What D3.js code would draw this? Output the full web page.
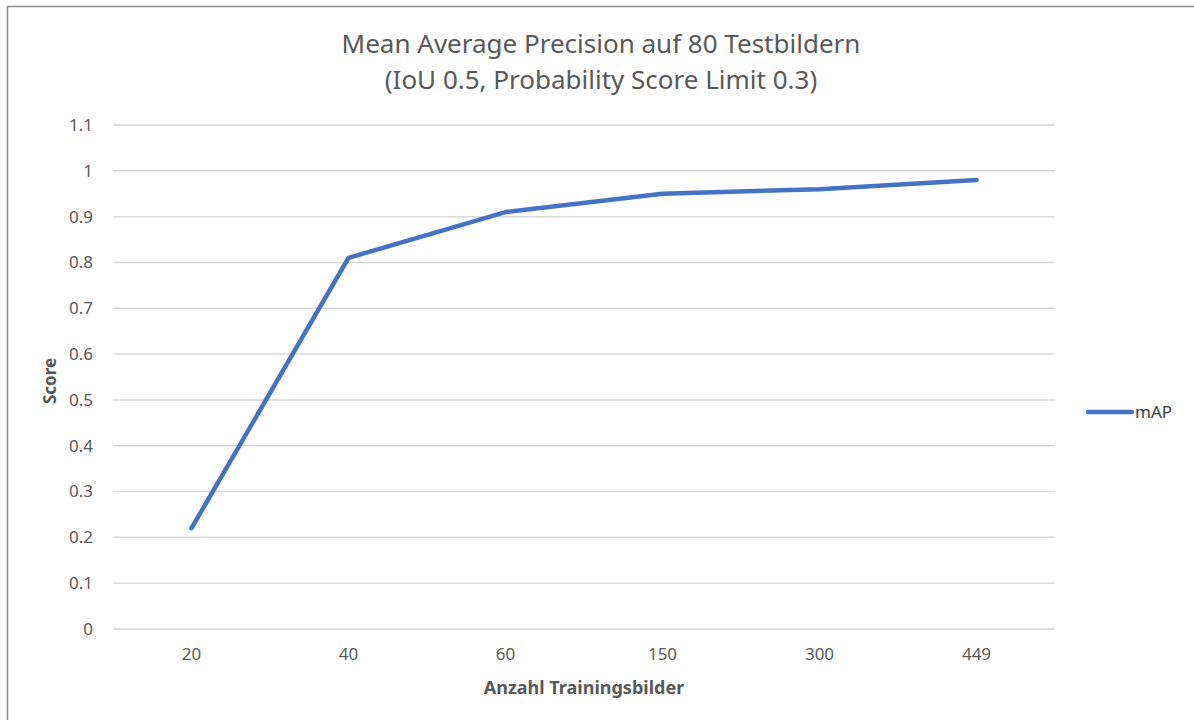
<!DOCTYPE html>
<html>
<head>
<meta charset="utf-8">
<script src="https://cdn.jsdelivr.net/npm/d3@7"></script>
<style>
  html, body { margin: 0; padding: 0; background: #fff; }
  svg { display: block; }
  text { font-family: "Noto Sans", "Open Sans", sans-serif; }
</style>
</head>
<body>
<svg id="chart" width="1194" height="720"></svg>
<script>
// Training set sizes and the resulting mAP scores
const categories = ["20", "40", "60", "150", "300", "449"];
const mapValues = [0.22, 0.81, 0.91, 0.95, 0.96, 0.98];
const yTicks = [0, 0.1, 0.2, 0.3, 0.4, 0.5, 0.6, 0.7, 0.8, 0.9, 1, 1.1];
const seriesName = "mAP";
const titleLines = ["Mean Average Precision auf 80 Testbildern", "(IoU 0.5, Probability Score Limit 0.3)"];
const xTitle = "Anzahl Trainingsbilder";
const yTitle = "Score";

const svg = d3.select("#chart");
const W = 1194, H = 720;
const plot = { left: 113, right: 1055, top: 125, bottom: 629 };

// chart frame
svg.append("path")
  .attr("d", `M7.5,${H} V6.5 H${W}`)
  .attr("fill", "none")
  .attr("stroke", "#8c8c8c")
  .attr("stroke-width", 1.5);

const x = d3.scaleBand().domain(categories).range([plot.left, plot.right]);
const y = d3.scaleLinear().domain([0, 1.1]).range([plot.bottom, plot.top]);

// horizontal gridlines
svg.append("g")
  .selectAll("line")
  .data(yTicks)
  .join("line")
  .attr("x1", plot.left).attr("x2", plot.right)
  .attr("y1", d => y(d)).attr("y2", d => y(d))
  .attr("stroke", "#d9d9d9")
  .attr("stroke-width", 1.5);

// y-axis tick labels
const yAxis = d3.axisLeft(y).tickValues(yTicks).tickFormat(d3.format("~g")).tickSize(0).tickPadding(20);
svg.append("g")
  .attr("transform", `translate(${plot.left},0)`)
  .call(yAxis)
  .call(g => g.select(".domain").remove())
  .call(g => g.selectAll("text")
    .attr("fill", "#595959")
    .style("font-size", "17px")
    .style("font-family", "\"Noto Sans\", sans-serif"));

// x-axis tick labels
const xAxis = d3.axisBottom(x).tickSize(0).tickPadding(19);
svg.append("g")
  .attr("transform", `translate(0,${plot.bottom})`)
  .call(xAxis)
  .call(g => g.select(".domain").remove())
  .call(g => g.selectAll("text")
    .attr("fill", "#595959")
    .style("font-size", "17px")
    .style("font-family", "\"Noto Sans\", sans-serif"));

// data line
const line = d3.line()
  .x((d, i) => x(categories[i]) + x.bandwidth() / 2)
  .y(d => y(d));
svg.append("path")
  .datum(mapValues)
  .attr("d", line)
  .attr("fill", "none")
  .attr("stroke", "#4472c4")
  .attr("stroke-width", 4.5)
  .attr("stroke-linecap", "round")
  .attr("stroke-linejoin", "round");

// title
svg.append("text")
  .attr("x", 601)
  .attr("text-anchor", "middle")
  .attr("fill", "#595959")
  .style("font-size", "26px")
  .selectAll("tspan")
  .data(titleLines)
  .join("tspan")
  .attr("x", 601)
  .attr("y", (d, i) => 53 + i * 36)
  .text(d => d);

// axis titles
svg.append("text")
  .attr("x", (plot.left + plot.right) / 2)
  .attr("y", 694)
  .attr("text-anchor", "middle")
  .attr("fill", "#595959")
  .style("font-size", "18px")
  .style("font-weight", "bold")
  .text(xTitle);

svg.append("text")
  .attr("transform", `translate(56,${(plot.top + plot.bottom) / 2 + 4}) rotate(-90)`)
  .attr("text-anchor", "middle")
  .attr("fill", "#595959")
  .style("font-size", "17px")
  .style("font-weight", "bold")
  .text(yTitle);

// legend
const legend = svg.append("g").attr("transform", "translate(1088,412)");
legend.append("line")
  .attr("x1", 0).attr("x2", 44)
  .attr("stroke", "#4472c4")
  .attr("stroke-width", 4.5)
  .attr("stroke-linecap", "round");
legend.append("text")
  .attr("x", 47).attr("y", 6)
  .attr("fill", "#404040")
  .style("font-size", "17px")
  .text(seriesName);
</script>
</body>
</html>
